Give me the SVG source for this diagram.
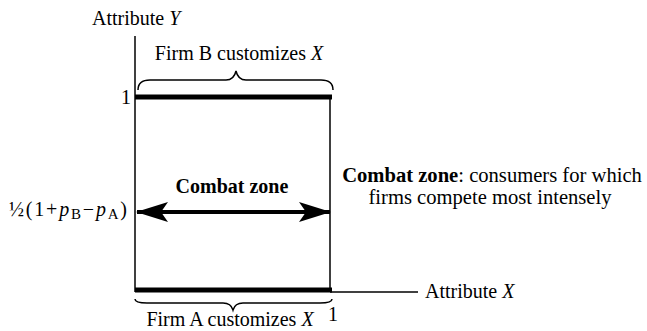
<svg xmlns="http://www.w3.org/2000/svg" width="647" height="331" viewBox="0 0 647 331">
<defs>
<style>
text{font-family:'Liberation Serif','Times New Roman','DejaVu Serif',serif;font-size:20px;fill:#000}
.b{font-weight:bold}
.i{font-style:italic}
.r{font-size:20.6px}
.thin{stroke:#000;stroke-width:1.5;fill:none}
.thick{stroke:#000;stroke-width:5;fill:none}
</style>
<marker id="ah" viewBox="0 0 32 20" refX="31" refY="10" markerWidth="32" markerHeight="20" markerUnits="userSpaceOnUse" orient="auto-start-reverse">
<path d="M0,0 L32,10 L0,20 L7,10 Z" fill="#000"/>
</marker>
</defs>
<rect width="647" height="331" fill="#fff"/>
<g id="axes">
<line class="thin" x1="135" y1="36" x2="135" y2="292"/>
<line class="thin" x1="330" y1="292" x2="418" y2="292"/>
<text x="92" y="25">Attribute <tspan class="i">Y</tspan></text>
<text x="425" y="298">Attribute <tspan class="i">X</tspan></text>
<text x="121" y="104">1</text>
<text x="328" y="321" font-size="18">1</text>
</g>
<g id="zone">
<line class="thin" x1="330" y1="97" x2="330" y2="292"/>
<line class="thick" x1="135" y1="97" x2="332" y2="97"/>
<line class="thick" x1="135" y1="290" x2="332" y2="290"/>
</g>
<g id="brace-b">
<path class="thin" d="M138,90 Q138,80 150,80 L226,80 Q234,80 236,71 Q238,80 246,80 L321,80 Q333,80 333,90"/>
<text x="239" y="60" text-anchor="middle">Firm B customizes <tspan class="i">X</tspan></text>
</g>
<g id="brace-a">
<path class="thin" d="M135,299 Q135,303 147,303 L223,303 Q231,303 233,310 Q235,303 243,303 L320,303 Q332,303 332,299"/>
<text x="230" y="326" text-anchor="middle">Firm A customizes <tspan class="i">X</tspan></text>
</g>
<g id="connectors">
<line x1="137" y1="212" x2="330" y2="212" stroke="#000" stroke-width="4" marker-start="url(#ah)" marker-end="url(#ah)"/>
</g>
<g id="labels">
<text class="b" x="232" y="193" text-anchor="middle">Combat zone</text>
<text x="9" y="216" font-size="21" textLength="118" lengthAdjust="spacing">½(1+<tspan class="i">p</tspan><tspan font-size="15" dy="3">B</tspan><tspan dy="-3">−</tspan><tspan class="i">p</tspan><tspan font-size="15" dy="3">A</tspan><tspan dy="-3">)</tspan></text>
<text class="r" x="492" y="182" text-anchor="middle"><tspan class="b">Combat zone</tspan>: consumers for which</text>
<text class="r" x="490" y="204" text-anchor="middle">firms compete most intensely</text>
</g>
</svg>
